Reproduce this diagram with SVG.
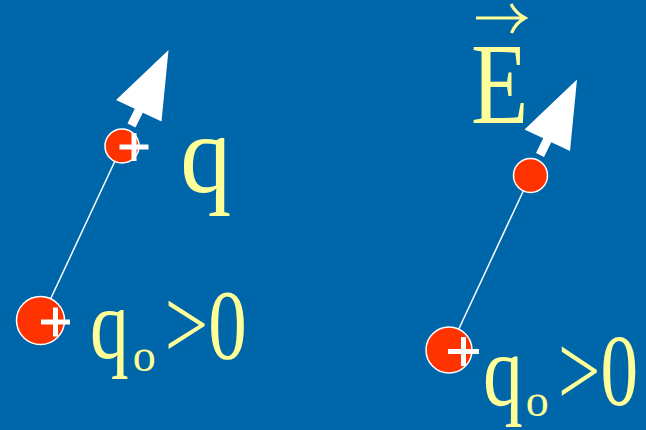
<svg xmlns="http://www.w3.org/2000/svg" width="646" height="430" viewBox="0 0 646 430">
  <style>
    .bg { fill: #0066AA; }
    .charge { fill: #FF3300; stroke: #FFFFFF; stroke-width: 1.5; }
    .plus { stroke: #FFFFFF; stroke-width: 5; }
    .fieldline { stroke: #FFFFFF; stroke-width: 1.5; }
    .arrow { fill: #FFFFFF; }
    .lbl { fill: #FFFF99; font-family: "Liberation Serif", "Times New Roman", serif; }
    .vec { fill: none; stroke: #FFFF99; stroke-width: 3.2; stroke-linecap: butt; }
  </style>
  <rect class="bg" x="0" y="0" width="646" height="430"/>

  <g id="connectors">
    <line class="fieldline" x1="40.5" y1="320.5" x2="122" y2="146"/>
    <line class="fieldline" x1="449" y1="350" x2="530.5" y2="175.5"/>
    <polygon class="arrow" points="168.5,50 161.5,121.5 142.8,112.7 135.5,127.6 127.5,123.6 134.7,108.8 116,100"/>
    <polygon class="arrow" points="577,79.5 570,151 551.3,142.2 544,157.1 536,153.1 543.2,138.3 524.5,129.5"/>
  </g>

  <g id="charge-q">
    <circle class="charge" cx="122" cy="146" r="17"/>
    <line class="plus" x1="119.5" y1="147" x2="148.5" y2="147"/>
    <line class="plus" x1="134" y1="133" x2="134" y2="161"/>
    <text class="lbl" transform="translate(180.3,191.5) scale(0.91,1)" x="0" y="0" font-size="112">q</text>
  </g>

  <g id="charge-q0-left">
    <circle class="charge" cx="40.5" cy="320.5" r="24"/>
    <line class="plus" x1="41" y1="322" x2="70" y2="322"/>
    <line class="plus" x1="55.5" y1="307.5" x2="55.5" y2="336.5"/>
    <text class="lbl" transform="translate(90,358) scale(0.776,1)" x="0" y="0" font-size="100">q</text>
    <text class="lbl" x="132.7" y="371" font-size="46">o</text>
    <text class="lbl" transform="translate(164.8,358) scale(0.771,1)" x="0" y="0" font-size="100">&gt;0</text>
  </g>

  <g id="test-charge-right">
    <circle class="charge" cx="530.5" cy="175.5" r="17"/>
  </g>

  <g id="charge-q0-right">
    <circle class="charge" cx="449" cy="350" r="23"/>
    <line class="plus" x1="448" y1="351.5" x2="479" y2="351.5"/>
    <line class="plus" x1="463.5" y1="337" x2="463.5" y2="366"/>
    <text class="lbl" transform="translate(483,404.5) scale(0.79,1)" x="0" y="0" font-size="101">q</text>
    <text class="lbl" x="525.7" y="416" font-size="46">o</text>
    <text class="lbl" transform="translate(558,404.5) scale(0.745,1)" x="0" y="0" font-size="101">&gt;0</text>
  </g>

  <g id="label-E">
    <text class="lbl" transform="translate(470.9,123) scale(0.81,1)" x="0" y="0" font-size="116">E</text>
    <line class="vec" x1="476" y1="18" x2="523" y2="18"/>
    <path class="vec" d="M511,4 Q515.5,13 525,18 Q515.5,23 511.5,33"/>
  </g>
</svg>
